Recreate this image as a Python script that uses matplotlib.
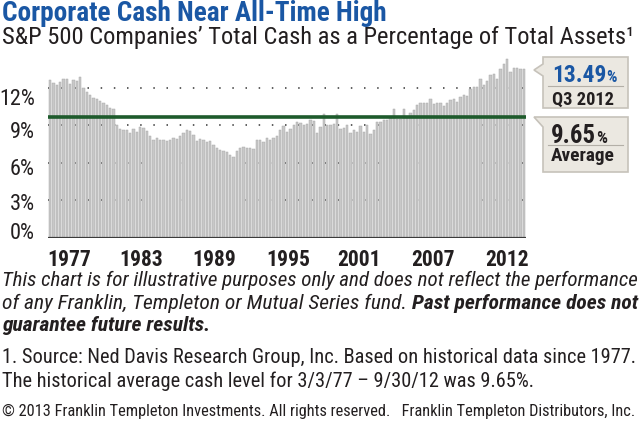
import numpy as np
import matplotlib.pyplot as plt
from matplotlib import font_manager as fm
from matplotlib.patches import Polygon
from matplotlib.lines import Line2D

# quarterly cash / total assets (%), Q1 1977 .. Q3 2012
cash_pct = [
    12.6, 12.35, 12.2, 12.45, 12.7, 12.7, 12.3, 12.6, 12.5, 12.85,
    12.0, 11.65, 11.4, 11.2, 11.05, 10.9, 10.75, 10.6, 10.4, 10.3,
    9.0, 8.7, 8.6, 8.65, 8.4, 8.7, 8.45, 8.85, 8.75, 8.5,
    8.1, 7.85, 7.95, 7.85, 7.8, 7.75, 7.8, 7.95, 7.9, 8.15,
    8.35, 8.6, 8.5, 8.2, 7.75, 7.9, 7.8, 7.65, 7.7, 7.4,
    7.15, 7.05, 6.95, 6.85, 6.6, 6.5, 6.95, 7.2, 7.25, 7.15,
    7.2, 7.1, 7.8, 7.8, 7.65, 7.95, 7.8, 8.0, 8.1, 8.6,
    8.9, 8.45, 8.7, 9.0, 9.25, 9.2, 9.05, 9.1, 9.45, 9.35,
    8.4, 8.85, 9.9, 9.0, 9.05, 9.1, 9.9, 8.7, 8.75, 9.0,
    8.4, 8.6, 8.45, 8.9, 8.45, 9.0, 8.3, 8.6, 9.25, 9.25,
    9.4, 9.45, 9.6, 10.3, 9.5, 9.5, 10.3, 9.6, 10.0, 10.2,
    10.6, 10.8, 10.8, 10.8, 11.05, 10.7, 10.75, 10.75, 10.55, 10.8,
    11.0, 11.05, 10.85, 11.25, 11.4, 11.3, 11.9, 12.05, 12.05, 12.7,
    12.2, 12.5, 13.0, 13.1, 12.7, 13.45, 13.9, 14.25, 13.25, 13.55,
    13.55, 13.5, 13.49,
]
average = 9.65
latest_label = "13.49"
latest_period = "Q3 2012"

grid_levels = [3, 6, 9, 12]
y_labels = ["0%", "3%", "6%", "9%", "12%"]
x_labels = ["1977", "1983", "1989", "1995", "2001", "2007", "2012"]

# layout (label spots as printed in the original, not exactly on the grid)
y_label_pos = [0.56, 2.89, 5.67, 8.59, 11.24]
x_label_pos = [5.6, 27.2, 49.1, 71.4, 92.5, 114.8, 136.8]

W, H = 640, 426
BLUE = "#1a57a4"
DARK = "#231f20"

avail = {f.name for f in fm.fontManager.ttflist}
FONT = next((n for n in ("Roboto Condensed", "Archivo Narrow", "PT Sans Narrow",
                         "Liberation Sans Narrow") if n in avail), "DejaVu Sans")
plt.rcParams["font.family"] = [FONT, "DejaVu Sans"]


def fx(px):
    return px / W


def fy(py):
    return 1 - py / H


fig = plt.figure(figsize=(6.4, 4.26), dpi=100)
ax = fig.add_axes([fx(48), fy(238), (526 - 48) / W, (238 - 55) / H])

x = np.arange(len(cash_pct))
ax.bar(x, cash_pct, width=0.7, color="#c8c8c8", edgecolor="#a9a9a9",
       linewidth=0.35, zorder=2)
ax.set_xlim(-0.6, len(cash_pct) - 0.4)
ax.set_ylim(0, 14.6)

for g in grid_levels:
    ax.axhline(g, color="#444444", lw=1.2, dashes=(0.9, 7), zorder=1)
ax.axhline(average, color="#1e5b2c", lw=2.6, zorder=3)
ax.axhline(0, color="#3a3a3a", lw=1.6, zorder=4)

for s in ax.spines.values():
    s.set_visible(False)
ax.set_yticks(y_label_pos)
ax.set_yticklabels(y_labels, fontsize=16, color=DARK)
ax.set_xticks(x_label_pos)
ax.set_xticklabels(x_labels, fontsize=15.5, fontweight="bold", color=DARK)
ax.tick_params(axis="y", length=0, pad=9.5)
ax.tick_params(axis="x", length=0, pad=8)

renderer = fig.canvas.get_renderer()


def fit(texts, x0, target):
    # scale a run of text pieces so that together they span target px
    for _ in range(2):
        total = sum(t.get_window_extent(renderer).width for t in texts)
        k = target / total
        for t in texts:
            t.set_fontsize(t.get_fontsize() * k)
    xs = x0
    for t in texts:
        t.set_x(fx(xs))
        xs += t.get_window_extent(renderer).width


def line(x0, base, s, size, **kw):
    return fig.text(fx(x0), fy(base), s, fontsize=size, va="baseline",
                    ha="left", color=DARK, **kw)


title = line(2, 21, "Corporate Cash Near All-Time High", 18,
             fontweight="bold")
title.set_color(BLUE)
fit([title], 2, 384)

sub = line(2, 44, "S&P 500 Companies\u2019 Total Cash as a Percentage of Total Assets\u00b9", 15)
fit([sub], 2, 634)

l1 = line(2, 286, "This chart is for illustrative purposes only and does not reflect the performance",
          14, style="italic")
fit([l1], 2, 634)
l2a = line(2, 309, "of any Franklin, Templeton or Mutual Series fund. ", 14, style="italic")
l2b = line(2, 309, "Past performance does not", 14, style="italic", fontweight="bold")
fit([l2a, l2b], 2, 635)
l3 = line(2, 331, "guarantee future results.", l2b.get_fontsize(),
          style="italic", fontweight="bold")
l4 = line(2, 363, "1. Source: Ned Davis Research Group, Inc. Based on historical data since 1977.", 14)
fit([l4], 2, 634)
l5 = line(2, 387, "The historical average cash level for 3/3/77 \u2013 9/30/12 was 9.65%.",
          l4.get_fontsize())
l6 = line(2, 416, "\u00a9 2013 Franklin Templeton Investments. All rights reserved.   "
          "Franklin Templeton Distributors, Inc.", 12)
fit([l6], 2, 635)

# callout boxes
FACE, EDGE = "#ebe8e1", "#c6c2ba"
box1 = [(543, 57), (628, 57), (628, 108), (543, 108), (543, 76), (534, 70), (543, 64)]
box2 = [(534, 117), (628, 117), (628, 172), (543, 172), (543, 127)]
for pts in (box1, box2):
    fig.add_artist(Polygon([(fx(a), fy(b)) for a, b in pts], closed=True,
                           transform=fig.transFigure, facecolor=FACE,
                           edgecolor=EDGE, lw=1.2))
for yy in (86, 144.5):
    fig.add_artist(Line2D([fx(548), fx(623)], [fy(yy), fy(yy)],
                          transform=fig.transFigure, color="#b3afa7", lw=0.8))

v1 = line(552, 82, latest_label, 18, fontweight="bold")
v1.set_color(BLUE)
p1 = line(552, 82, "%", 12.5, fontweight="bold")
p1.set_color(BLUE)
fit([v1, p1], 552, 65)
q = line(552, 105, latest_period, 15, fontweight="bold")
fit([q], 552, 62)

v2 = line(551, 143, f"{average:.2f}", 18, fontweight="bold")
p2 = line(551, 143, "%", 12.5, fontweight="bold")
fit([v2, p2], 551, 56)
a = line(551, 161, "Average", 15, fontweight="bold")
fit([a], 551, 64)

fig.savefig("out.png", dpi=100)
